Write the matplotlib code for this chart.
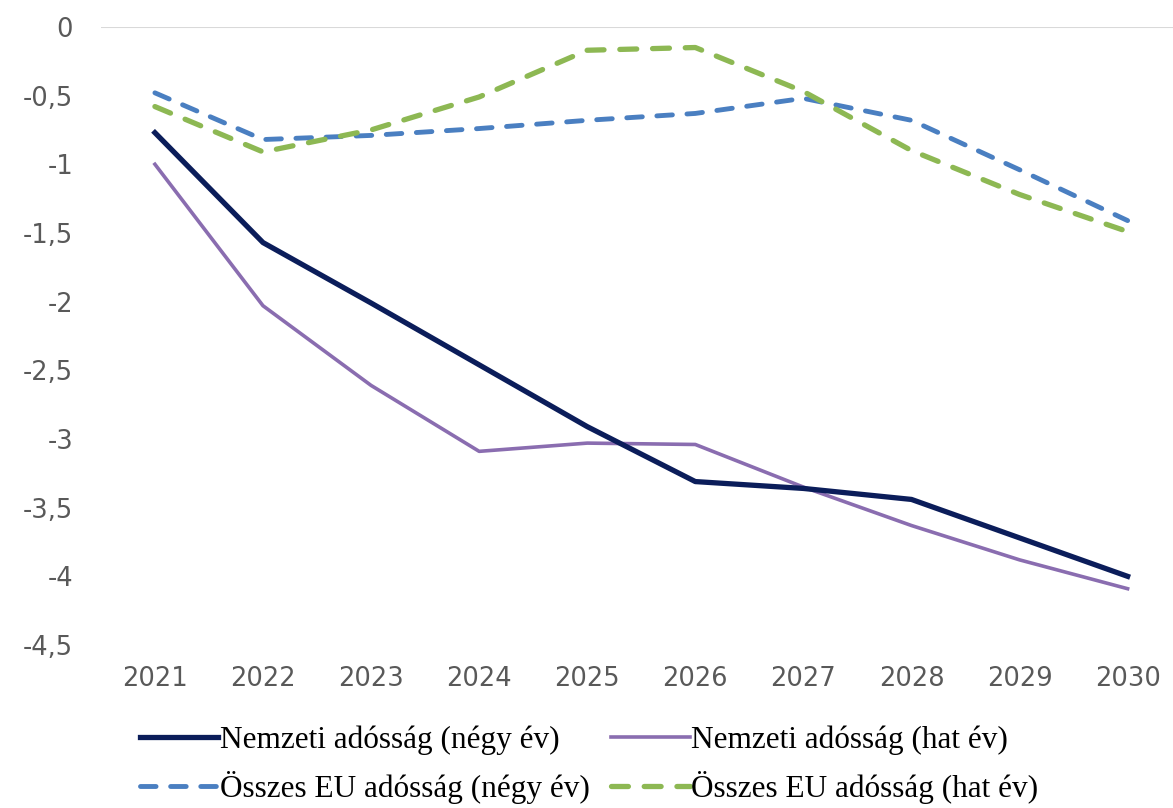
import matplotlib.pyplot as plt

years = ["2021", "2022", "2023", "2024", "2025", "2026", "2027", "2028", "2029", "2030"]

nemzeti_negy = [-0.77, -1.57, -2.01, -2.46, -2.91, -3.31, -3.36, -3.44, -3.72, -4.00]
nemzeti_hat = [-1.00, -2.03, -2.61, -3.09, -3.03, -3.04, -3.35, -3.63, -3.88, -4.09]
eu_negy = [-0.48, -0.82, -0.79, -0.74, -0.68, -0.63, -0.52, -0.68, -1.04, -1.41]
eu_hat = [-0.58, -0.91, -0.75, -0.51, -0.17, -0.15, -0.47, -0.90, -1.22, -1.49]

y_ticks = [0, -0.5, -1, -1.5, -2, -2.5, -3, -3.5, -4, -4.5]

fig = plt.figure(figsize=(11.73, 8.08), dpi=100)
ax = fig.add_axes([0.086, 0.2017, 0.914, 0.765])

x = range(len(years))
l1, = ax.plot(x, nemzeti_negy, color="#0b1d5a", lw=3.8, zorder=4,
              label="Nemzeti adósság (négy év)")
l2, = ax.plot(x, nemzeti_hat, color="#8a6db0", lw=2.6, zorder=3,
              label="Nemzeti adósság (hat év)")
l3, = ax.plot(x, eu_negy, color="#4a7fc1", lw=3.5, dashes=(3.2, 3.0),
              dash_capstyle="round", zorder=5, label="Összes EU adósság (négy év)")
l4, = ax.plot(x, eu_hat, color="#8db853", lw=3.8, dashes=(3.2, 3.0),
              dash_capstyle="round", zorder=6, label="Összes EU adósság (hat év)")

ax.axhline(0, color="#d9d9d9", lw=1.5, zorder=1)

ax.set_xlim(-0.5, 9.42)
ax.set_ylim(-4.5, 0)
ax.set_xticks(list(x))
ax.set_xticklabels(years)
ax.set_yticks(y_ticks)
ax.set_yticklabels([f"{v:g}".replace(".", ",") for v in y_ticks])
ax.tick_params(length=0, labelsize=18.5, labelcolor="#595959")
ax.tick_params(axis="y", pad=20)
ax.tick_params(axis="x", pad=15)
for s in ax.spines.values():
    s.set_visible(False)

# legend is filled column by column, so order handles to read row-wise
handles = [l1, l3, l2, l4]
fig.legend(handles, [h.get_label() for h in handles],
           loc="upper left", bbox_to_anchor=(0.106, 0.121), ncol=2, frameon=False,
           prop={"family": "Liberation Serif", "size": 22.5},
           borderpad=0, handlelength=2.5, handletextpad=0.05,
           columnspacing=0.7, labelspacing=0.5)

fig.savefig("out.png", dpi=100, facecolor="white")
